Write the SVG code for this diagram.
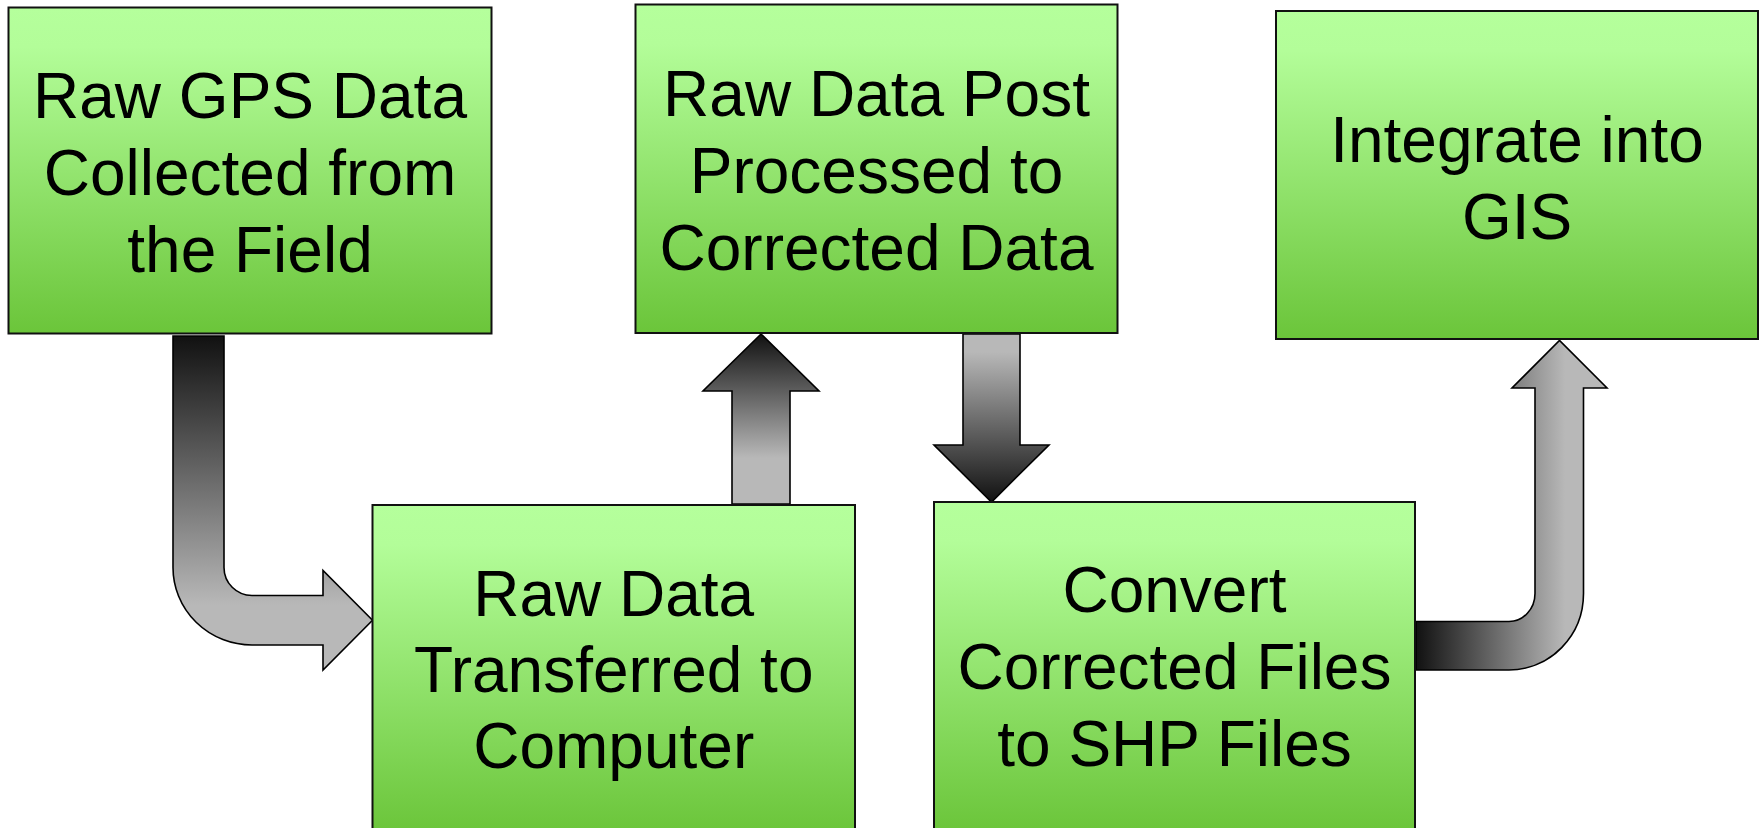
<svg xmlns="http://www.w3.org/2000/svg" width="1764" height="828" viewBox="0 0 1764 828">
  <defs>
    <linearGradient id="boxFill" x1="0" y1="0" x2="0" y2="1">
      <stop offset="0" stop-color="#b5ff9c"/>
      <stop offset="0.12" stop-color="#b3fd99"/>
      <stop offset="1" stop-color="#6bc53a"/>
    </linearGradient>
    <linearGradient id="g1" gradientUnits="userSpaceOnUse" x1="0" y1="336" x2="0" y2="605">
      <stop offset="0" stop-color="#111111"/>
      <stop offset="1" stop-color="#b8b8b8"/>
    </linearGradient>
    <linearGradient id="g2" gradientUnits="userSpaceOnUse" x1="0" y1="334" x2="0" y2="458">
      <stop offset="0" stop-color="#111111"/>
      <stop offset="1" stop-color="#b8b8b8"/>
    </linearGradient>
    <linearGradient id="g3" gradientUnits="userSpaceOnUse" x1="0" y1="352" x2="0" y2="502">
      <stop offset="0" stop-color="#b8b8b8"/>
      <stop offset="1" stop-color="#111111"/>
    </linearGradient>
    <linearGradient id="g4" gradientUnits="userSpaceOnUse" x1="1416" y1="0" x2="1565" y2="0">
      <stop offset="0" stop-color="#111111"/>
      <stop offset="1" stop-color="#b8b8b8"/>
    </linearGradient>
  </defs>
  <style>
    .box { fill: url(#boxFill); stroke: #111111; stroke-width: 2; }
    .lbl { font-family: "Liberation Sans", Arial, sans-serif; font-size: 64px; fill: #000000; text-anchor: middle; }
    .arr { stroke: #000000; stroke-width: 1.6; stroke-linejoin: miter; }
  </style>
  <rect width="1764" height="828" fill="#ffffff"/>

  <g id="connectors">
    <path class="arr" fill="url(#g1)" d="M 173 336 L 224 336 L 224 567.5 A 28 28 0 0 0 252 595.5 L 323 595.5 L 323 570.5 L 372.5 620.3 L 323 670 L 323 645 L 252 645 A 79 77.5 0 0 1 173 567.5 Z"/>
    <path class="arr" fill="url(#g2)" d="M 732 504 L 732 391 L 703 391 L 761 334 L 819 391 L 790 391 L 790 504 Z"/>
    <path class="arr" fill="url(#g3)" d="M 963 334 L 1020 334 L 1020 445 L 1049 445 L 991.5 502 L 934 445 L 963 445 Z"/>
    <path class="arr" fill="url(#g4)" d="M 1416 621.5 L 1509 621.5 A 26 28 0 0 0 1535 593.5 L 1535 388 L 1512 388 L 1559.5 340.5 L 1607 388 L 1583.5 388 L 1583.5 593.5 A 74.5 76.5 0 0 1 1509 670 L 1416 670 Z"/>
  </g>

  <g id="node-raw-gps">
    <rect class="box" x="8.5" y="7.5" width="483" height="326"/>
    <text class="lbl" x="250" y="118">Raw GPS Data</text>
    <text class="lbl" x="250" y="195">Collected from</text>
    <text class="lbl" x="250" y="272">the Field</text>
  </g>

  <g id="node-post-processed">
    <rect class="box" x="635.5" y="4.5" width="482" height="328.5"/>
    <text class="lbl" x="876.5" y="116">Raw Data Post</text>
    <text class="lbl" x="876.5" y="193">Processed to</text>
    <text class="lbl" x="876.5" y="270">Corrected Data</text>
  </g>

  <g id="node-integrate">
    <rect class="box" x="1276" y="11" width="482" height="328"/>
    <text class="lbl" x="1517" y="162">Integrate into</text>
    <text class="lbl" x="1517" y="238.5">GIS</text>
  </g>

  <g id="node-transferred">
    <rect class="box" x="372.5" y="505" width="482.5" height="328"/>
    <text class="lbl" x="613.7" y="616">Raw Data</text>
    <text class="lbl" x="613.7" y="692">Transferred to</text>
    <text class="lbl" x="613.7" y="768">Computer</text>
  </g>

  <g id="node-convert">
    <rect class="box" x="934" y="502" width="481" height="330"/>
    <text class="lbl" x="1174.5" y="612">Convert</text>
    <text class="lbl" x="1174.5" y="689">Corrected Files</text>
    <text class="lbl" x="1174.5" y="766">to SHP Files</text>
  </g>
</svg>
